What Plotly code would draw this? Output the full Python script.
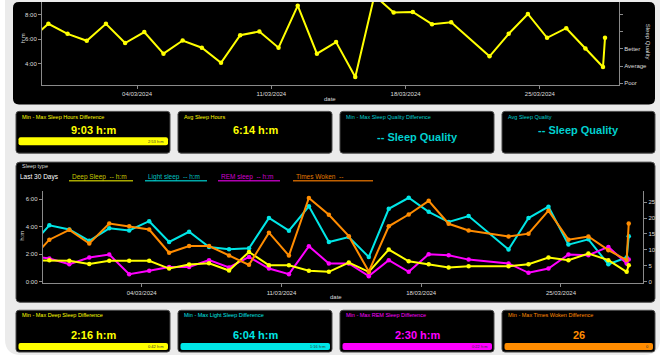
import plotly.graph_objects as go

W, H = 672, 361

# ---------------- data ----------------
dates = ["2024-02-27 09:00", "2024-02-28 09:00", "2024-02-29 09:00", "2024-03-01 09:00", "2024-03-02 09:00",
         "2024-03-03 09:00", "2024-03-04 09:00", "2024-03-05 09:00", "2024-03-06 09:00", "2024-03-07 09:00",
         "2024-03-08 09:00", "2024-03-09 09:00", "2024-03-10 09:00", "2024-03-11 09:00", "2024-03-12 09:00",
         "2024-03-13 09:00", "2024-03-14 09:00", "2024-03-15 09:00", "2024-03-16 09:00", "2024-03-17 09:00",
         "2024-03-18 09:00", "2024-03-19 09:00", "2024-03-20 09:00", "2024-03-22 09:00", "2024-03-23 09:00",
         "2024-03-24 09:00", "2024-03-25 09:00", "2024-03-26 09:00", "2024-03-27 09:00", "2024-03-28 07:00",
         "2024-03-28 09:30"]
sleep_hours = [5.90, 7.27, 6.45, 5.88, 7.27, 5.69, 6.59, 4.82, 5.90, 5.31, 4.08, 6.34, 6.64, 5.31, 8.76,
               4.82, 5.77, 2.91, 9.60, 8.19, 8.24, 7.24, 7.40, 4.60, 6.45, 8.08, 6.12, 6.91, 5.25, 3.73, 6.12]
deep_sleep = [1.57, 1.57, 1.52, 1.30, 1.52, 1.52, 1.52, 0.96, 1.25, 1.35, 0.82, 2.17, 1.20, 1.20, 0.80,
              0.72, 1.40, 0.72, 2.34, 1.49, 1.28, 1.04, 1.13, 1.13, 1.28, 1.76, 1.57, 2.05, 1.57, 0.72, 1.20]
light_sleep = [2.48, 4.10, 3.80, 2.98, 3.88, 3.73, 4.40, 2.89, 3.63, 2.53, 2.36, 2.43, 4.64, 3.71, 5.48,
               2.89, 3.25, 1.80, 5.30, 6.10, 5.08, 4.34, 4.77, 2.34, 4.63, 5.45, 2.70, 3.08, 1.27, 1.76, 3.30]
rem_sleep = [1.90, 1.69, 1.28, 1.76, 1.98, 0.55, 0.80, 1.08, 1.08, 1.57, 1.04, 1.80, 0.96, 0.55, 2.58,
             1.33, 1.33, 0.41, 1.57, 0.72, 2.00, 1.93, 1.61, 1.33, 0.65, 0.96, 1.98, 1.93, 2.53, 1.33, 1.61]
times_woken = [6.3, 13.2, 16.3, 12.0, 18.3, 17.4, 16.4, 9.1, 11.2, 11.2, 8.2, 5.3, 15.4, 8.2, 26.3,
               21.0, 14.3, 3.2, 17.4, 21.1, 25.4, 18.2, 16.1, 14.2, 15.1, 22.3, 13.2, 14.2, 9.9, 6.8, 18.3]

hm_ticks_top = [4, 6, 8]
hm_labels_top = ["4:00", "6:00", "8:00"]
quality_ticks = [0, 1, 2, 3, 4]
quality_labels = ["Poor", "Average", "Better", "", ""]
hm_ticks_mid = [0, 2, 4, 6]
hm_labels_mid = ["0:00", "2:00", "4:00", "6:00"]
woken_ticks = [0, 5, 10, 15, 20, 25]
date_ticks = ["2024-03-04", "2024-03-11", "2024-03-18", "2024-03-25"]
x_range = ["2024-02-28 01:00", "2024-03-29 03:00"]

YEL, CYA, MAG, ORA = "#ffff00", "#00e6e6", "#ff00ff", "#ff8c00"
FONT = "Liberation Sans, Arial, sans-serif"


def px(x):
    return x / W


def py(y):
    return 1 - y / H


def rrect(x0, y0, x1, y1, r, fill, line="rgba(0,0,0,0)", lw=0):
    pts = [("M", x0 + r, y0), ("L", x1 - r, y0), ("Q", x1, y0, x1, y0 + r), ("L", x1, y1 - r),
           ("Q", x1, y1, x1 - r, y1), ("L", x0 + r, y1), ("Q", x0, y1, x0, y1 - r), ("L", x0, y0 + r),
           ("Q", x0, y0, x0 + r, y0)]
    path = ""
    for p in pts:
        cmd = p[0]
        coords = p[1:]
        s = []
        for i in range(0, len(coords), 2):
            s.append(f"{px(coords[i]):.5f},{py(coords[i + 1]):.5f}")
        path += cmd + " " + " ".join(s) + " "
    path += "Z"
    return dict(type="path", xref="paper", yref="paper", path=path, fillcolor=fill,
                line=dict(color=line, width=lw), layer="below")


shapes = []
annotations = []


def text(x, y, s, size, color, xanchor="center", angle=0):
    annotations.append(dict(x=px(x), y=py(y), xref="paper", yref="paper", text=s, showarrow=False,
                            xanchor=xanchor, yanchor="middle", textangle=angle,
                            font=dict(size=size, color=color, family=FONT)))


# background
shapes.append(rrect(5, -20, 660, 357, 16, "#ebebeb"))
# top chart panel
shapes.append(rrect(13, 2, 655, 105, 6, "#000000"))
# middle panel
shapes.append(rrect(16, 163, 655, 304, 4, "#000000", "#555555", 1))

# cards
cards_top = [
    (16, 170, "Min - Max Sleep Hours Difference", "9:03 h:m", YEL, 131, "2:53 h:m"),
    (178, 332, "Avg Sleep Hours", "6:14 h:m", YEL, 131, None),
    (340, 494, "Min - Max Sleep Quality Difference", "-- Sleep Quality", "#00d0d0", 137.5, None),
    (502, 655, "Avg Sleep Quality", "-- Sleep Quality", "#00d0d0", 131, None),
]
cards_bot = [
    (16, 170, "Min - Max Deep Sleep Difference", "2:16 h:m", YEL, "0:42 h:m"),
    (178, 332, "Min - Max Light Sleep Difference", "6:04 h:m", CYA, "1:16 h:m"),
    (340, 494, "Min - Max REM Sleep Difference", "2:30 h:m", MAG, "0:22 h:m"),
    (502, 655, "Min - Max Times Woken Difference", "26", ORA, "0"),
]
for x0, x1, title, val, col, vy, bar in cards_top:
    shapes.append(rrect(x0, 112, x1, 154, 3, "#000000", "#4a4a4a", 1))
    text(x0 + 4, 117.5, title, 5.5, col, "left")
    text((x0 + x1) / 2, vy, "<b>" + val + "</b>", 11, col)
    if bar:
        shapes.append(rrect(x0 + 2.5, 138, x1 - 2, 146, 2, col))
        text(x1 - 4, 142, bar, 4, "#333333", "right")
for x0, x1, title, val, col, bar in cards_bot:
    shapes.append(rrect(x0, 312, x1, 354, 3, "#000000", "#4a4a4a", 1))
    text(x0 + 4, 316.8, title, 5.5, col, "left")
    text((x0 + x1) / 2, 336.5, "<b>" + val + "</b>", 11, col)
    shapes.append(rrect(x0 + 2.5, 344.8, x1 - 2, 352, 2, col))
    text(x1 - 4, 348.4, bar, 4, "#333333", "right")

# middle panel header + legend
text(20, 166.5, "Sleep type", 5.5, "#dddddd", "left")
text(18, 177.5, "Last 30 Days", 6.5, "#ffffff", "left")
legend_items = [("Deep Sleep  -- h:m", 69, 133, "#c8c800", "#a8a800"),
                ("Light sleep  -- h:m", 145, 207, "#00c0c0", "#00a8a8"),
                ("REM sleep  -- h:m", 218, 280, "#d000d0", "#b000b0"),
                ("Times Woken  --", 293, 373, "#e07a00", "#c06000")]
for lab, lx0, lx1, tc, lc in legend_items:
    text(lx0 + 1, 177.5, lab, 6.5, tc, "left")
    shapes.append(dict(type="line", xref="paper", yref="paper", x0=px(lx0), x1=px(lx1), y0=py(181.8),
                       y1=py(181.8), line=dict(color=lc, width=1.5)))

# axis titles
text(22.5, 39, "h:m", 6, "#dddddd", angle=-90)
text(330, 99.5, "date", 6, "#dddddd")
text(648, 42, "Sleep Quality", 6, "#dddddd", angle=90)
text(22, 237, "h:m", 6, "#dddddd", angle=-90)
text(336, 298.5, "date", 6, "#dddddd")

fig = go.Figure()
fig.add_trace(go.Scatter(x=dates, y=sleep_hours, mode="lines+markers", xaxis="x", yaxis="y",
                         line=dict(color=YEL, width=2), marker=dict(size=4.5, color=YEL), showlegend=False))
fig.add_trace(go.Scatter(x=[dates[1]], y=[None], mode="lines", xaxis="x", yaxis="y2", showlegend=False))
fig.add_trace(go.Scatter(x=dates, y=times_woken, mode="lines+markers", xaxis="x2", yaxis="y4",
                         line=dict(color=ORA, width=2), marker=dict(size=4.5, color=ORA), showlegend=False))
fig.add_trace(go.Scatter(x=dates, y=light_sleep, mode="lines+markers", xaxis="x2", yaxis="y3",
                         line=dict(color=CYA, width=2), marker=dict(size=4.5, color=CYA), showlegend=False))
fig.add_trace(go.Scatter(x=dates, y=rem_sleep, mode="lines+markers", xaxis="x2", yaxis="y3",
                         line=dict(color=MAG, width=2), marker=dict(size=4.5, color=MAG), showlegend=False))
fig.add_trace(go.Scatter(x=dates, y=deep_sleep, mode="lines+markers", xaxis="x2", yaxis="y3",
                         line=dict(color=YEL, width=2), marker=dict(size=4.5, color=YEL), showlegend=False))

axis_common = dict(showgrid=False, zeroline=False, showline=True, linecolor="#8a8a8a", linewidth=1,
                   ticks="outside", ticklen=3, tickcolor="#8a8a8a",
                   tickfont=dict(size=6, color="#dddddd", family=FONT))
x_common = dict(axis_common, type="date", range=x_range, tickvals=date_ticks, tickformat="%d/%m/%Y")

top_bottom, top_top = 85, 2
mid_bottom, mid_top = 285, 191.7

fig.update_layout(
    width=W, height=H, margin=dict(l=0, r=0, t=0, b=0),
    paper_bgcolor="#ffffff", plot_bgcolor="rgba(0,0,0,0)",
    shapes=shapes, annotations=annotations, showlegend=False,
    xaxis=dict(x_common, domain=[px(42), px(619)], anchor="y"),
    yaxis=dict(axis_common, domain=[py(top_bottom), py(top_top)], anchor="x",
               range=[2.29, 8 + (15 - top_top) / 12.25], tickvals=hm_ticks_top, ticktext=hm_labels_top),
    yaxis2=dict(axis_common, overlaying="y", side="right", anchor="x",
                range=[-0.08, (84 - top_top) / 17.3], tickvals=quality_ticks, ticktext=quality_labels),
    xaxis2=dict(x_common, domain=[px(42.7), px(643.3)], anchor="y3"),
    yaxis3=dict(axis_common, domain=[py(mid_bottom), py(mid_top)], anchor="x2",
                range=[-0.12, 6.62], tickvals=hm_ticks_mid, ticktext=hm_labels_mid),
    yaxis4=dict(axis_common, overlaying="y3", side="right", anchor="x2",
                range=[-0.53, 28.6], tickvals=woken_ticks),
)

fig.write_html("out.html", config={"displayModeBar": False},
               post_script="document.body.style.margin='0';")
